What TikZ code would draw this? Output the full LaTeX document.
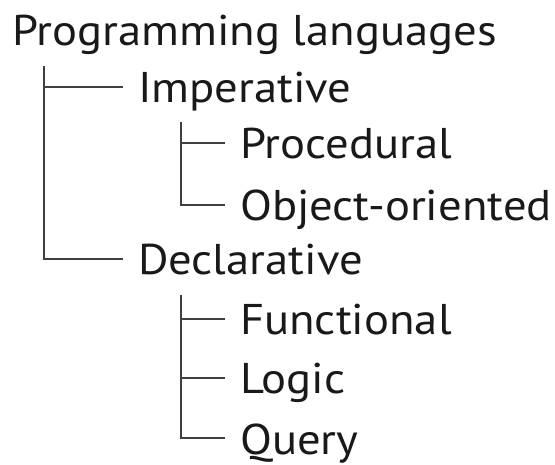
\documentclass[tikz,border=0pt]{standalone}
\usepackage{fontspec}
\setmainfont{PT Sans}[FakeStretch=1.085]
\begin{document}
\begin{tikzpicture}[x=1pt,y=-1pt,
  lbl/.style={anchor=base west,inner sep=0pt,font=\fontsize{43}{50}\selectfont,text=black!90},
  conn/.style={line width=1.6pt,draw=black!75}]
\useasboundingbox (0,0) rectangle (555,465);
\node[lbl] (root) at (12,46) {Programming languages};
\node[lbl] (imp) at (138,103) {Imperative};
\node[lbl] (proc) at (240,159) {Procedural};
\node[lbl] (oo) at (240,221) {Object-oriented};
\node[lbl] (decl) at (138,275) {Declarative};
\node[lbl] (func) at (240,335) {Functional};
\node[lbl] (logic) at (240,394) {Logic};
\node[lbl] (query) at (240,454) {Query};
% branch starts
\coordinate (b0) at ([shift={(32pt,-20pt)}]root.base west);
\coordinate (b1) at ([shift={(43pt,-19pt)}]imp.base west);
\coordinate (b2) at ([shift={(43pt,-20pt)}]decl.base west);
% level 1
\draw[conn] (b0) |- ([shift={(-15pt,16pt)}]imp.base west);
\draw[conn] (b0) |- ([shift={(-15pt,16pt)}]decl.base west);
% level 2 imperative
\draw[conn] (b1) |- ([shift={(-15pt,16pt)}]proc.base west);
\draw[conn] (b1) |- ([shift={(-15pt,16pt)}]oo.base west);
% level 2 declarative
\draw[conn] (b2) |- ([shift={(-15pt,16pt)}]func.base west);
\draw[conn] (b2) |- ([shift={(-15pt,16pt)}]logic.base west);
\draw[conn] (b2) |- ([shift={(-15pt,16pt)}]query.base west);
\end{tikzpicture}
\end{document}
